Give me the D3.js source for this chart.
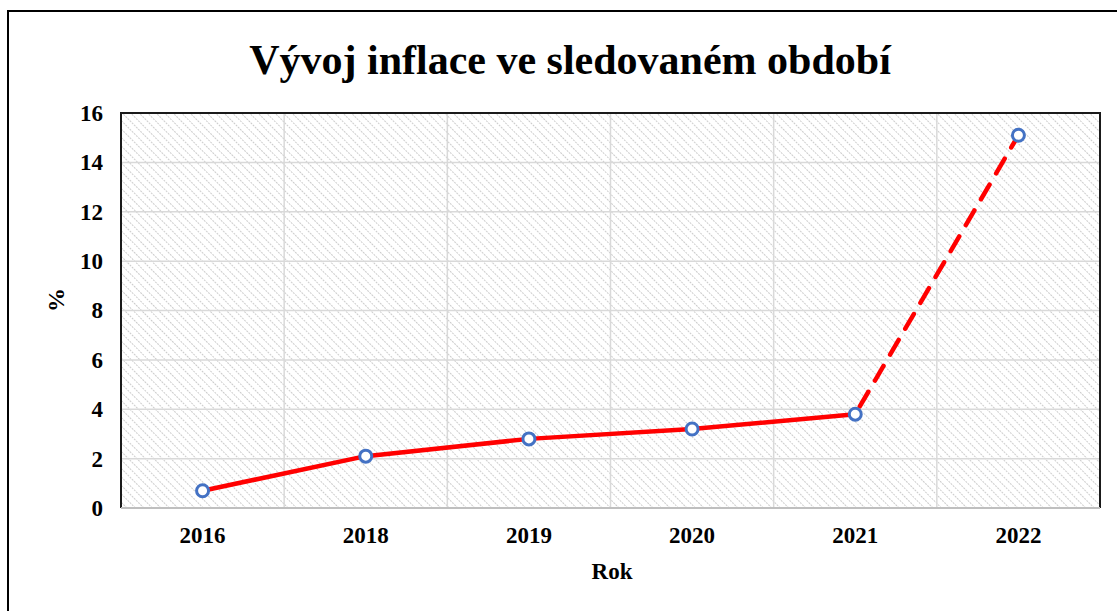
<!DOCTYPE html>
<html lang="cs">
<head>
<meta charset="UTF-8">
<title>Vývoj inflace</title>
<script src="https://cdn.jsdelivr.net/npm/d3@7"></script>
<style>
  body { margin: 0; background: #fff; }
  text { font-family: "Liberation Serif", "Times New Roman", serif; font-weight: bold; }
</style>
</head>
<body>
<svg id="chart" width="1117" height="611"></svg>
<script>
// data
var years = ["2016", "2018", "2019", "2020", "2021", "2022"];
var inflation = [0.7, 2.1, 2.8, 3.2, 3.8, 15.1];
var yTicks = [0, 2, 4, 6, 8, 10, 12, 14, 16];

var svg = d3.select("#chart");
var plot = { left: 121, top: 113, right: 1100, bottom: 508 };

// hatch pattern for plot background
var defs = svg.append("defs");
var pat = defs.append("pattern")
    .attr("id", "hatch")
    .attr("patternUnits", "userSpaceOnUse")
    .attr("width", 6).attr("height", 6)
    .attr("patternTransform", "rotate(-45)");
pat.append("line")
    .attr("x1", 0).attr("y1", 0).attr("x2", 0).attr("y2", 6)
    .attr("stroke", "#c4c4c4").attr("stroke-width", 1.7)
    .attr("stroke-dasharray", "2,1");

// outer chart border
svg.append("rect")
    .attr("x", 8).attr("y", 11)
    .attr("width", 1300).attr("height", 800)
    .attr("fill", "none").attr("stroke", "#000").attr("stroke-width", 2);

var x = d3.scaleBand().domain(years).range([plot.left, plot.right]);
var y = d3.scaleLinear().domain([0, 16]).range([plot.bottom, plot.top]);

svg.append("rect")
    .attr("x", plot.left).attr("y", plot.top)
    .attr("width", plot.right - plot.left).attr("height", plot.bottom - plot.top)
    .attr("fill", "url(#hatch)");

// gridlines
svg.append("g").selectAll("line")
    .data(yTicks.slice(1))
    .enter().append("line")
    .attr("x1", plot.left).attr("x2", plot.right)
    .attr("y1", function (d) { return y(d); })
    .attr("y2", function (d) { return y(d); })
    .attr("stroke", "#d9d9d9").attr("stroke-width", 1.5);

svg.append("g").selectAll("line")
    .data(years.slice(1))
    .enter().append("line")
    .attr("x1", function (d) { return x(d); })
    .attr("x2", function (d) { return x(d); })
    .attr("y1", plot.top).attr("y2", plot.bottom)
    .attr("stroke", "#d9d9d9").attr("stroke-width", 1.5);

// plot area border (top/left/right dark, bottom axis grey)
svg.append("path")
    .attr("d", "M" + plot.left + "," + plot.bottom + "V" + plot.top + "H" + plot.right + "V" + plot.bottom)
    .attr("fill", "none").attr("stroke", "#1a1a1a").attr("stroke-width", 2);
svg.append("line")
    .attr("x1", plot.left).attr("x2", plot.right)
    .attr("y1", plot.bottom).attr("y2", plot.bottom)
    .attr("stroke", "#bfbfbf").attr("stroke-width", 2);

// axes labels
var xAxis = d3.axisBottom(x).tickSize(0).tickPadding(19);
var gx = svg.append("g")
    .attr("transform", "translate(0," + plot.bottom + ")")
    .call(xAxis);
gx.select(".domain").remove();
gx.selectAll("text").attr("font-size", 23).attr("fill", "#000")
    .style("font-family", "'Liberation Serif', serif").style("font-weight", "bold");

var yAxis = d3.axisLeft(y).tickValues(yTicks).tickSize(0).tickPadding(18);
var gy = svg.append("g")
    .attr("transform", "translate(" + plot.left + ",0)")
    .call(yAxis);
gy.select(".domain").remove();
gy.selectAll("text").attr("font-size", 23).attr("fill", "#000")
    .style("font-family", "'Liberation Serif', serif").style("font-weight", "bold");

// line
var pts = years.map(function (d, i) { return [x(d) + x.bandwidth() / 2, y(inflation[i])]; });
var line = d3.line();
svg.append("path")
    .attr("d", line(pts.slice(0, 5)))
    .attr("fill", "none").attr("stroke", "#ff0000").attr("stroke-width", 4.5)
    .attr("stroke-linejoin", "round").attr("stroke-linecap", "round");
svg.append("path")
    .attr("d", line(pts.slice(4)))
    .attr("fill", "none").attr("stroke", "#ff0000").attr("stroke-width", 4.5)
    .attr("stroke-dasharray", "17,13").attr("stroke-dashoffset", -9)
    .attr("stroke-linecap", "round");

// markers
svg.append("g").selectAll("circle")
    .data(pts)
    .enter().append("circle")
    .attr("cx", function (d) { return d[0]; })
    .attr("cy", function (d) { return d[1]; })
    .attr("r", 6)
    .attr("fill", "#fff").attr("stroke", "#4472c4").attr("stroke-width", 3);

// titles
svg.append("text")
    .attr("x", 570).attr("y", 74)
    .attr("text-anchor", "middle")
    .attr("font-size", 42)
    .text("Vývoj inflace ve sledovaném období");

svg.append("text")
    .attr("x", 612).attr("y", 579)
    .attr("text-anchor", "middle")
    .attr("font-size", 23)
    .text("Rok");

svg.append("text")
    .attr("transform", "translate(64,300) rotate(-90)")
    .attr("text-anchor", "middle")
    .attr("font-size", 24)
    .text("%");
</script>
</body>
</html>
